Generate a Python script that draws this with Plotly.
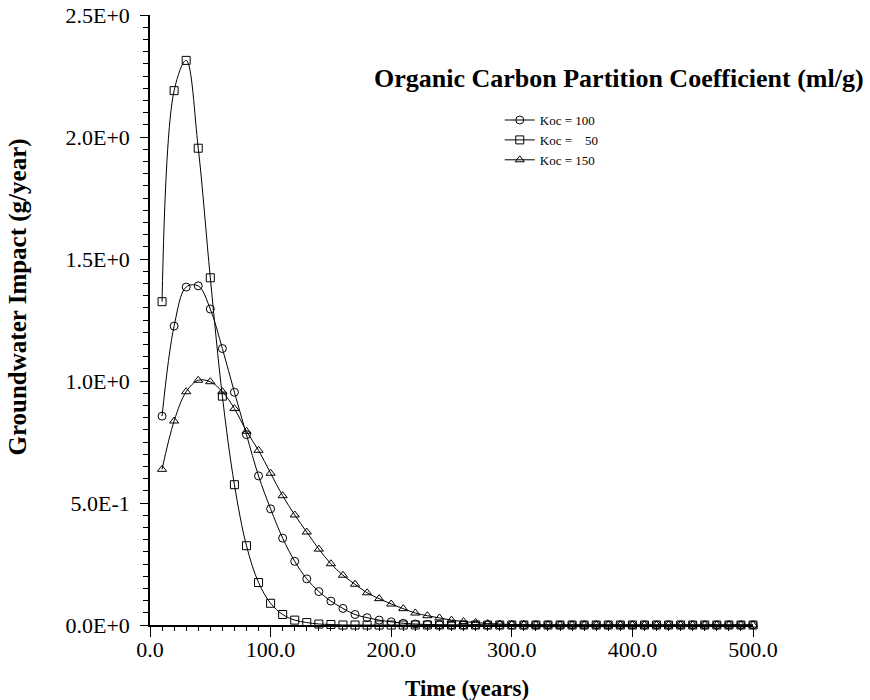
import plotly.graph_objects as go

# time axis (years): samples every 10 years
years = list(range(10, 510, 10))

# Groundwater impact (g/year)
koc_100 = [0.856, 1.225, 1.385, 1.39, 1.295, 1.133, 0.954, 0.78, 0.611, 0.476,
           0.356, 0.261, 0.189, 0.137, 0.098, 0.068, 0.043, 0.03, 0.02, 0.013,
           0.007, 0.004, 0.002, 0.001] + [0.0] * 26
koc_50 = [1.325, 2.19, 2.314, 1.954, 1.423, 0.938, 0.575, 0.325, 0.174, 0.089,
          0.043, 0.02, 0.01, 0.004, 0.002] + [0.0] * 35
koc_150 = [0.638, 0.836, 0.956, 1.003, 0.997, 0.956, 0.887, 0.794, 0.716, 0.622,
           0.53, 0.451, 0.381, 0.311, 0.251, 0.204, 0.167, 0.132, 0.108, 0.086,
           0.067, 0.049, 0.038, 0.029, 0.02, 0.014, 0.01, 0.006, 0.004, 0.002,
           0.001] + [0.0] * 19

series_names = ["Koc = 100", "Koc = \u2007 50", "Koc = 150"]
x_tickvals = [0, 100, 200, 300, 400, 500]
x_ticktext = ["0.0", "100.0", "200.0", "300.0", "400.0", "500.0"]
y_tickvals = [0.0, 0.5, 1.0, 1.5, 2.0, 2.5]
y_ticktext = ["0.0E+0", "5.0E-1", "1.0E+0", "1.5E+0", "2.0E+0", "2.5E+0"]

FONT = "Liberation Serif"

fig = go.Figure()

for name, vals, sym in [(series_names[0], koc_100, "circle-open"),
                        (series_names[1], koc_50, "square-open"),
                        (series_names[2], koc_150, "triangle-up-open")]:
    fig.add_trace(go.Scatter(
        x=years, y=vals, name=name,
        mode="lines+markers",
        line=dict(color="black", width=1, shape="spline", smoothing=1),
        marker=dict(symbol=sym, size=8, color="black", line=dict(width=1, color="black")),
        cliponaxis=False,
    ))

# chart title, top right
fig.add_annotation(
    text="<b>Organic Carbon Partition Coefficient (ml/g)</b>",
    xref="paper", yref="paper", x=1.187, y=0.896,
    xanchor="right", yanchor="middle", showarrow=False,
    font=dict(family=FONT, size=26, color="black"),
)
# axis titles placed by hand (they sit off-centre in the original)
fig.add_annotation(
    text="<b>Time (years)</b>",
    xref="paper", yref="paper", x=0.5257, y=-0.1033,
    xanchor="center", yanchor="middle", showarrow=False,
    font=dict(family=FONT, size=23, color="black"),
)
fig.add_annotation(
    text="<b>Groundwater Impact (g/year)</b>", textangle=-90,
    xref="paper", yref="paper", x=-0.2197, y=0.5377,
    xanchor="center", yanchor="middle", showarrow=False,
    font=dict(family=FONT, size=25, color="black"),
)

fig.update_layout(
    width=870, height=700,
    margin=dict(l=150, r=117, t=15, b=75),
    paper_bgcolor="white", plot_bgcolor="white",
    font=dict(family=FONT, color="black"),
    legend=dict(
        x=0.58, y=0.795, xanchor="left", yanchor="middle",
        font=dict(family=FONT, size=13, color="black"),
        bgcolor="rgba(0,0,0,0)", tracegroupgap=0,
    ),
    xaxis=dict(
        range=[0, 500], showgrid=False, zeroline=False, automargin=False,
        showline=True, linecolor="black", linewidth=1.5,
        tickmode="array", tickvals=x_tickvals, ticktext=x_ticktext,
        ticks="outside", ticklen=10, tickwidth=1, tickcolor="black",
        ticklabelstandoff=-6, ticklabeloverflow="allow",
        minor=dict(dtick=10, ticks="outside", ticklen=4, tickwidth=1, tickcolor="black"),
        tickfont=dict(family=FONT, size=22, color="black"),
    ),
    yaxis=dict(
        range=[0, 2.5], showgrid=False, zeroline=False, automargin=False,
        showline=True, linecolor="black", linewidth=1.5,
        tickmode="array", tickvals=y_tickvals, ticktext=y_ticktext,
        ticks="outside", ticklen=8, tickwidth=1, tickcolor="black",
        ticklabelstandoff=6, ticklabeloverflow="allow",
        minor=dict(dtick=0.05, ticks="outside", ticklen=5, tickwidth=1, tickcolor="black"),
        tickfont=dict(family=FONT, size=22, color="black"),
    ),
)

# drop the default 8px body margin so the figure fills the window exactly
fig.write_html("out.html", config={"displayModeBar": False},
               post_script="document.body.style.margin='0';")
